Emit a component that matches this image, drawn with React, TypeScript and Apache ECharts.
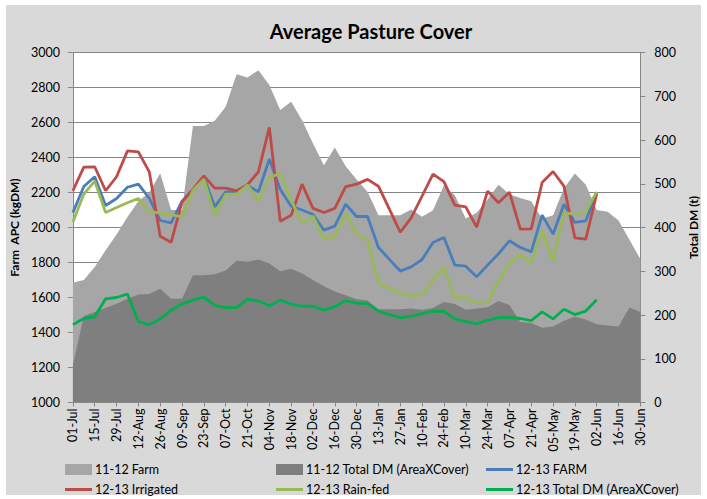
import React, { useEffect, useRef } from "react";
import * as echarts from "echarts";

const weeks = [
  "01-Jul", "08-Jul", "15-Jul", "22-Jul", "29-Jul", "05-Aug", "12-Aug", "19-Aug", "26-Aug",
  "02-Sep", "09-Sep", "16-Sep", "23-Sep", "30-Sep", "07-Oct", "14-Oct", "21-Oct", "28-Oct",
  "04-Nov", "11-Nov", "18-Nov", "25-Nov", "02-Dec", "09-Dec", "16-Dec", "23-Dec", "30-Dec",
  "06-Jan", "13-Jan", "20-Jan", "27-Jan", "03-Feb", "10-Feb", "17-Feb", "24-Feb", "03-Mar",
  "10-Mar", "17-Mar", "24-Mar", "31-Mar", "07-Apr", "14-Apr", "21-Apr", "28-Apr", "05-May",
  "12-May", "19-May", "26-May", "02-Jun", "09-Jun", "16-Jun", "23-Jun", "30-Jun",
];

// 11-12 Farm (kgDM, left axis)
const farm1112 = [
  1685, 1700, 1775, 1870, 1960, 2060, 2150, 2200, 2310, 2100, 2100, 2580, 2580, 2610,
  2690, 2876, 2857, 2899, 2815, 2671, 2718, 2613, 2480, 2356, 2457, 2350, 2274, 2204,
  2070, 2070, 2070, 2103, 2061, 2099, 2240, 2185, 2051, 2085, 2160, 2245, 2190, 2168,
  2150, 2050, 2070, 2225, 2309, 2245, 2100, 2090, 2040, 1930, 1820,
];

// 11-12 Total DM (t, right axis)
const totalDm1112 = [
  86, 198, 207, 216, 226, 237, 247, 248, 260, 237, 237, 291, 291, 293, 302, 324, 322,
  327, 318, 300, 306, 295, 280, 266, 254, 245, 236, 233, 213, 213, 213, 215, 212, 216,
  230, 225, 212, 215, 218, 232, 223, 184, 182, 171, 174, 187, 196, 190, 179, 176, 174,
  217, 207,
];

// 12-13 FARM (kgDM)
const farm1213 = [
  2085, 2234, 2290, 2126, 2166, 2230, 2248, 2166, 2040, 2027, 2150, 2215, 2288, 2118,
  2204, 2204, 2240, 2204, 2391, 2217, 2122, 2100, 2074, 1985, 2008, 2133, 2063, 2063,
  1886, 1818, 1751, 1775, 1817, 1914, 1943, 1785, 1779, 1718, 1785, 1850, 1924, 1886,
  1861, 2071, 1962, 2133, 2029, 2038, 2198,
];

// 12-13 Irrigated (kgDM)
const irrigated1213 = [
  2210, 2345, 2347, 2210, 2290, 2438, 2432, 2318, 1950, 1915, 2147, 2218, 2295, 2225,
  2225, 2210, 2245, 2318, 2572, 2036, 2070, 2248, 2109, 2086, 2109, 2234, 2248, 2275,
  2236, 2105, 1973, 2055, 2180, 2305, 2262, 2128, 2118, 2002, 2208, 2141, 2202, 1991,
  1992, 2257, 2320, 2236, 1941, 1934, 2194,
];

// 12-13 Rain-fed (kgDM)
const rainfed1213 = [
  2032, 2191, 2265, 2086, 2114, 2141, 2166, 2090, 2084, 2074, 2061, 2213, 2276, 2071,
  2191, 2191, 2242, 2153, 2286, 2309, 2158, 2023, 2065, 1937, 1947, 2080, 1962, 1932,
  1680, 1653, 1625, 1608, 1619, 1695, 1772, 1600, 1598, 1570, 1570, 1690, 1794, 1846,
  1800, 1981, 1809, 2086, 2074, 2090, 2204,
];

// 12-13 Total DM (t, right axis)
const totalDm1213 = [
  178, 192, 196, 237, 240, 248, 185, 178, 191, 211, 225, 234, 241, 222, 217, 217, 236,
  232, 221, 234, 225, 220, 220, 211, 219, 233, 227, 226, 209, 201, 194, 197, 203, 209,
  208, 191, 185, 180, 188, 194, 195, 192, 187, 207, 191, 213, 201, 209, 235,
];

const FONT = "Lato, 'Liberation Sans', sans-serif";

const C = {
  light: "#a6a6a6",
  dark: "#7f7f7f",
  blue: "#4a7ebb",
  red: "#be4b48",
  green: "#98b954",
  dkgreen: "#00b050",
  axis: "#868686",
};

export default function App() {
  const ref = useRef<HTMLDivElement>(null);

  useEffect(() => {
    if (!ref.current) return;
    const chart = echarts.init(ref.current, undefined, { renderer: "svg" });

    const area = (name: string, data: number[], color: string, yAxisIndex: number) => ({
      name,
      type: "line",
      data,
      yAxisIndex,
      symbol: "none",
      lineStyle: { width: 0, color },
      itemStyle: { color },
      areaStyle: { color, opacity: 1 },
      z: 1,
    });
    const line = (name: string, data: number[], color: string, yAxisIndex: number) => ({
      name,
      type: "line",
      data,
      yAxisIndex,
      symbol: "none",
      lineStyle: { width: 2.8, color },
      itemStyle: { color },
      z: 3,
    });

    const legendItem = (name: string, left: number, top: number, isArea: boolean) => ({
      left,
      top,
      data: [{ name, icon: "rect" }],
      itemWidth: 27,
      itemHeight: isArea ? 11 : 3,
      padding: 0,
      textStyle: { fontFamily: FONT, fontSize: 12.5, color: "#000", padding: [0, 0, 0, -2] },
      selectedMode: false,
    });

    chart.setOption({
      animation: false,
      backgroundColor: "#ffffff",
      textStyle: { fontFamily: FONT },
      graphic: [
        {
          type: "rect",
          z: -100,
          silent: true,
          shape: { x: 6, y: 5, width: 695, height: 490 },
          style: { fill: "#d9d9d9" },
        },
      ],
      title: {
        text: "Average Pasture Cover",
        left: 366,
        top: 16,
        textAlign: "center",
        textStyle: { fontFamily: FONT, fontSize: 20, fontWeight: "bold", color: "#000" },
      },
      grid: {
        left: 71.5,
        top: 52.5,
        width: 582.5,
        height: 350,
        show: true,
        backgroundColor: "#ffffff",
        borderWidth: 0,
      },
      legend: [
        legendItem("11-12 Farm", 65, 463, true),
        legendItem("11-12 Total DM (AreaXCover)", 276, 463, true),
        legendItem("12-13 FARM", 486, 463, false),
        legendItem("12-13 Irrigated", 65, 483, false),
        legendItem("12-13 Rain-fed", 276, 483, false),
        legendItem("12-13 Total DM (AreaXCover)", 486, 483, false),
      ],
      xAxis: {
        type: "category",
        data: weeks,
        boundaryGap: false,
        axisLine: { show: true, lineStyle: { color: C.axis } },
        axisTick: { show: true, interval: 1, length: 4, lineStyle: { color: C.axis } },
        axisLabel: {
          interval: 1,
          rotate: 90,
          margin: 6,
          fontFamily: FONT,
          fontSize: 12.5,
          color: "#000",
        },
        splitLine: { show: false },
      },
      yAxis: [
        {
          type: "value",
          min: 1000,
          max: 3000,
          interval: 200,
          position: "left",
          name: "Farm  APC (kgDM)",
          nameLocation: "middle",
          nameRotate: 90,
          nameGap: 49,
          nameTextStyle: { fontFamily: FONT, fontSize: 12, fontWeight: "bold", color: "#000" },
          axisLine: { show: true, lineStyle: { color: C.axis } },
          axisTick: { show: true, length: 5, lineStyle: { color: C.axis } },
          axisLabel: {
            margin: 13,
            fontFamily: FONT,
            fontSize: 12.5,
            color: "#000",
            formatter: (v: number) => String(v),
          },
          splitLine: { show: true, lineStyle: { color: C.axis, width: 1 } },
        },
        {
          type: "value",
          min: 0,
          max: 800,
          interval: 100,
          position: "right",
          name: "Total DM (t)",
          nameLocation: "middle",
          nameRotate: 90,
          nameGap: 44,
          nameTextStyle: { fontFamily: FONT, fontSize: 12, fontWeight: "bold", color: "#000" },
          axisLine: { show: true, lineStyle: { color: C.axis } },
          axisTick: { show: true, length: 5, lineStyle: { color: C.axis } },
          axisLabel: {
            margin: 14,
            fontFamily: FONT,
            fontSize: 12.5,
            color: "#000",
            formatter: (v: number) => String(v),
          },
          splitLine: { show: false },
        },
      ],
      series: [
        area("11-12 Farm", farm1112, C.light, 0),
        area("11-12 Total DM (AreaXCover)", totalDm1112, C.dark, 1),
        line("12-13 FARM", farm1213, C.blue, 0),
        line("12-13 Irrigated", irrigated1213, C.red, 0),
        line("12-13 Rain-fed", rainfed1213, C.green, 0),
        line("12-13 Total DM (AreaXCover)", totalDm1213, C.dkgreen, 1),
      ],
    });

    return () => chart.dispose();
  }, []);

  return (
    <div style={{ position: "absolute", left: 0, top: 0, width: 707, height: 499, background: "#fff" }}>
      <div ref={ref} style={{ width: 707, height: 499 }} />
    </div>
  );
}
